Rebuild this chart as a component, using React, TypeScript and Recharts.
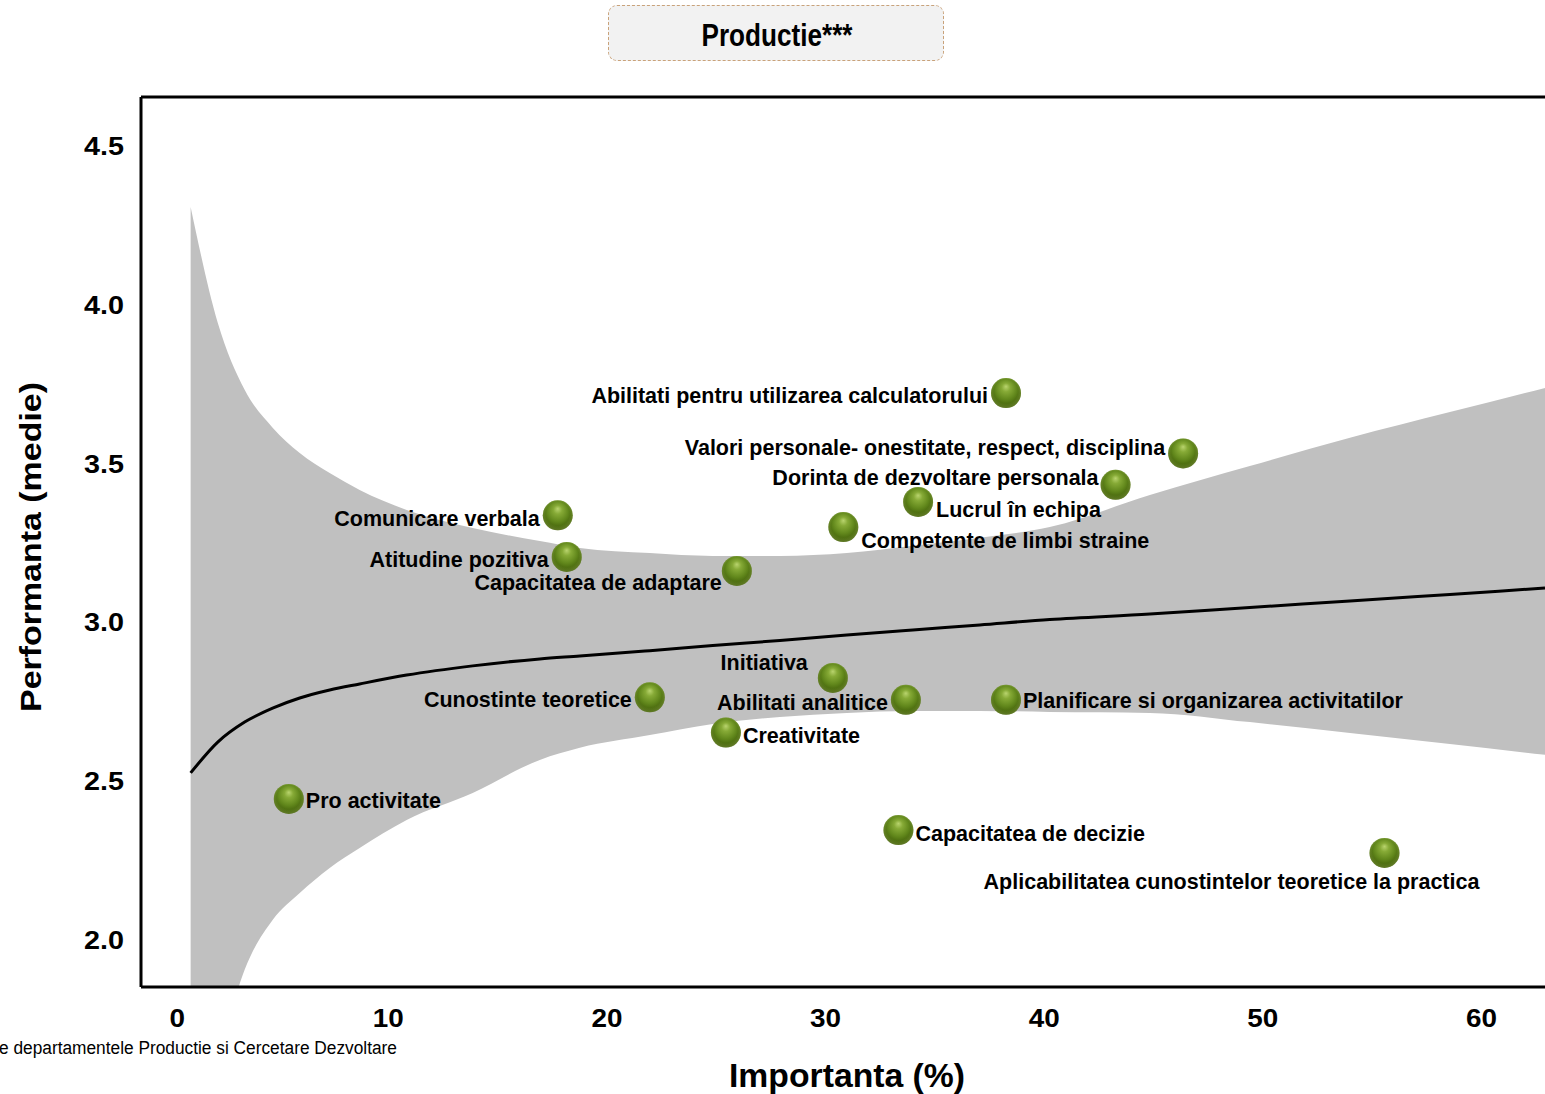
import React from 'react';
import { ComposedChart, XAxis, YAxis, Area, Line, Scatter, ReferenceLine } from 'recharts';

// ---------- data ----------
const pointNames = [
  'Abilitati pentru utilizarea calculatorului',
  'Valori personale- onestitate, respect, disciplina',
  'Dorinta de dezvoltare personala',
  'Lucrul în echipa',
  'Competente de limbi straine',
  'Comunicare verbala',
  'Atitudine pozitiva',
  'Capacitatea de adaptare',
  'Initiativa',
  'Cunostinte teoretice',
  'Abilitati analitice',
  'Planificare si organizarea activitatilor',
  'Creativitate',
  'Pro activitate',
  'Capacitatea de decizie',
  'Aplicabilitatea cunostintelor teoretice la practica',
];
const importance = [38.23, 46.33, 43.24, 34.21, 30.79, 17.73, 18.14, 25.92, 30.31, 21.94, 33.65, 38.23, 25.42, 5.43, 33.31, 55.54];
const performance = [3.722, 3.532, 3.433, 3.379, 3.3, 3.337, 3.206, 3.162, 2.825, 2.764, 2.756, 2.756, 2.653, 2.444, 2.346, 2.274];

const curveX = [0.94, 2.18, 3.41, 4.69, 5.93, 7.3, 8.67, 10.82, 13.84, 16.91, 18.74, 21.94, 24.82, 27.89, 30.95, 33.97, 37.03, 40.23, 44.81, 49.38, 53.96, 58.53, 62.88];
const fitLine = [2.526, 2.623, 2.686, 2.73, 2.762, 2.787, 2.806, 2.834, 2.863, 2.885, 2.894, 2.911, 2.927, 2.943, 2.96, 2.976, 2.992, 3.009, 3.026, 3.047, 3.067, 3.088, 3.108];
const bandLow = [1.3, 1.62, 1.906, 2.063, 2.148, 2.227, 2.29, 2.378, 2.463, 2.567, 2.605, 2.645, 2.68, 2.702, 2.715, 2.721, 2.721, 2.718, 2.715, 2.686, 2.652, 2.617, 2.583];
const bandHigh = [4.308, 3.943, 3.732, 3.613, 3.533, 3.47, 3.417, 3.354, 3.297, 3.256, 3.234, 3.218, 3.209, 3.209, 3.218, 3.241, 3.266, 3.3, 3.401, 3.492, 3.581, 3.662, 3.738];

const xTicks = [0, 10, 20, 30, 40, 50, 60];
const yTicks = [2.0, 2.5, 3.0, 3.5, 4.0, 4.5];

const X_DOMAIN: [number, number] = [-1.33, 62.88];
const Y_DOMAIN: [number, number] = [1.852, 4.654];

// label layout relative to the sphere (style only)
const labelLayout = [
  { anchor: 'end', dx: -18, dy: 2 },
  { anchor: 'end', dx: -18, dy: -6 },
  { anchor: 'end', dx: -17, dy: -7 },
  { anchor: 'start', dx: 18, dy: 7 },
  { anchor: 'start', dx: 18, dy: 13 },
  { anchor: 'end', dx: -18, dy: 3 },
  { anchor: 'end', dx: -18, dy: 3 },
  { anchor: 'end', dx: -15, dy: 12 },
  { anchor: 'end', dx: -25, dy: -15 },
  { anchor: 'end', dx: -18, dy: 2 },
  { anchor: 'end', dx: -18, dy: 3 },
  { anchor: 'start', dx: 17, dy: 1 },
  { anchor: 'start', dx: 17, dy: 3 },
  { anchor: 'start', dx: 17, dy: 2 },
  { anchor: 'start', dx: 17, dy: 3 },
  { anchor: 'middle', dx: -153, dy: 29 },
];

const curveData = curveX.map((x, i) => ({ x, fit: fitLine[i], band: [bandLow[i], bandHigh[i]] }));
const pointData = pointNames.map((name, i) => ({ name, x: importance[i], y: performance[i], idx: i }));

const FONT = "'Liberation Sans', Arial, Helvetica, sans-serif";

const Sphere = (props: any) => {
  const { cx, cy, payload } = props;
  if (cx == null || cy == null) return null;
  const lay = labelLayout[payload.idx];
  const fs = 21.5;
  return (
    <g>
      <circle cx={cx} cy={cy} r={15} fill="url(#sphereGrad)" />
      <circle cx={cx} cy={cy} r={15} fill="url(#sphereRim)" />
      <text
        x={cx + lay.dx}
        y={cy + lay.dy + fs * 0.35}
        textAnchor={lay.anchor}
        fontFamily={FONT}
        fontWeight="bold"
        fontSize={fs}
        fill="#000"
      >
        {payload.name}
      </text>
    </g>
  );
};

const XTick = (props: any) => {
  const { x, y, payload } = props;
  const s = String(payload.value);
  return (
    <text
      x={x + 15}
      y={y + 40}
      textAnchor="end"
      fontFamily={FONT}
      fontWeight="bold"
      fontSize={25}
      textLength={s.length * 15.5}
      lengthAdjust="spacingAndGlyphs"
      fill="#000"
    >
      {s}
    </text>
  );
};

const YTick = (props: any) => {
  const { x, y, payload } = props;
  const s = Number(payload.value).toFixed(1);
  return (
    <text
      x={x - 17}
      y={y + 9}
      textAnchor="end"
      fontFamily={FONT}
      fontWeight="bold"
      fontSize={25}
      textLength={40}
      lengthAdjust="spacingAndGlyphs"
      fill="#000"
    >
      {s}
    </text>
  );
};

export default function App() {
  return (
    <div style={{ position: 'absolute', left: 0, top: 0, width: 1545, height: 1094, background: '#fff', overflow: 'hidden' }}>
      <svg width={0} height={0} style={{ position: 'absolute' }}>
        <defs>
          <radialGradient id="sphereGrad" cx="50%" cy="42%" r="58%" fx="50%" fy="28%">
            <stop offset="0%" stopColor="#b9d46e" />
            <stop offset="25%" stopColor="#86aa36" />
            <stop offset="60%" stopColor="#62881c" />
            <stop offset="88%" stopColor="#46650c" />
            <stop offset="100%" stopColor="#3a5408" />
          </radialGradient>
          <radialGradient id="sphereRim" cx="50%" cy="50%" r="50%" fx="50%" fy="20%">
            <stop offset="80%" stopColor="#a8c060" stopOpacity={0} />
            <stop offset="100%" stopColor="#a8c060" stopOpacity={0.35} />
          </radialGradient>
        </defs>
      </svg>

      <div
        style={{
          position: 'absolute',
          left: 608,
          top: 5,
          width: 336,
          height: 56,
          background: '#f2f2f2',
          border: '1px dashed #c9a27a',
          borderRadius: 9,
          boxSizing: 'border-box',
        }}
      />
      <svg width={1545} height={1094} style={{ position: 'absolute', left: 0, top: 0, pointerEvents: 'none' }}>
        <text
          x={777}
          y={46}
          textAnchor="middle"
          fontFamily={FONT}
          fontWeight="bold"
          fontSize={31}
          textLength={151}
          lengthAdjust="spacingAndGlyphs"
          fill="#000"
        >
          Productie***
        </text>
        <text
          x={-1}
          y={1054}
          fontFamily={FONT}
          fontSize={18}
          textLength={398}
          lengthAdjust="spacingAndGlyphs"
          fill="#000"
        >
          e departamentele Productie si Cercetare Dezvoltare
        </text>
        <text
          x={847}
          y={1087}
          textAnchor="middle"
          fontFamily={FONT}
          fontWeight="bold"
          fontSize={33}
          textLength={236}
          lengthAdjust="spacingAndGlyphs"
          fill="#000"
        >
          Importanta (%)
        </text>
        <text
          x={0}
          y={0}
          transform="translate(41,547) rotate(-90)"
          textAnchor="middle"
          fontFamily={FONT}
          fontWeight="bold"
          fontSize={30}
          textLength={330}
          lengthAdjust="spacingAndGlyphs"
          fill="#000"
        >
          Performanta (medie)
        </text>
      </svg>

      <div style={{ position: 'absolute', left: 0, top: 0 }}>
        <ComposedChart
          width={1545}
          height={1094}
          data={curveData}
          margin={{ top: 97, right: 0, bottom: 0, left: 0 }}
        >
          <XAxis
            type="number"
            dataKey="x"
            domain={X_DOMAIN}
            allowDataOverflow
            ticks={xTicks}
            tick={<XTick />}
            tickLine={false}
            tickSize={0}
            tickMargin={0}
            height={107}
            axisLine={{ stroke: '#000', strokeWidth: 3 }}
            interval={0}
          />
          <YAxis
            type="number"
            domain={Y_DOMAIN}
            allowDataOverflow
            ticks={yTicks}
            tick={<YTick />}
            tickLine={false}
            tickSize={0}
            tickMargin={0}
            width={141}
            axisLine={{ stroke: '#000', strokeWidth: 3 }}
            interval={0}
          />
          <Area
            type="monotone"
            dataKey="band"
            fill="#c0c0c0"
            fillOpacity={1}
            stroke="none"
            isAnimationActive={false}
            dot={false}
            activeDot={false}
          />
          <Line
            type="monotone"
            dataKey="fit"
            stroke="#000"
            strokeWidth={3}
            dot={false}
            activeDot={false}
            isAnimationActive={false}
          />
          <ReferenceLine y={Y_DOMAIN[1]} stroke="#000" strokeWidth={3} ifOverflow="visible" />
          <Scatter
            data={pointData}
            dataKey="y"
            shape={<Sphere />}
            isAnimationActive={false}
          />
        </ComposedChart>
      </div>
    </div>
  );
}
